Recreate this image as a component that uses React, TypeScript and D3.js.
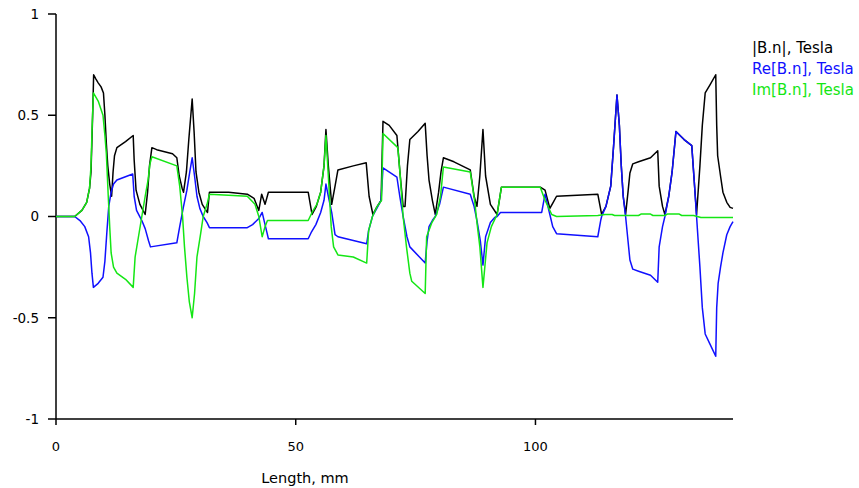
import React from "react";
import * as d3 from "d3";

type P = [number, number];

const xTicks = [0, 50, 100];
const yTicks = [-1, -0.5, 0, 0.5, 1];
const seriesNames = ["|B.n|, Tesla", "Re[B.n], Tesla", "Im[B.n], Tesla"];
const seriesColors = ["#000000", "#1010ff", "#14e614"];

const absB: P[] = [
  [0, 0], [3.9, 0], [5.4, 0.03], [6.4, 0.07], [7.0, 0.14], [7.3, 0.22], [7.5, 0.38], [7.7, 0.55], [7.85, 0.7],
  [8.3, 0.68], [8.8, 0.66], [9.4, 0.64], [9.9, 0.61], [10.2, 0.5], [10.5, 0.36], [10.8, 0.25], [11.2, 0.16],
  [11.6, 0.1], [11.9, 0.22], [12.2, 0.3], [12.7, 0.34], [14.5, 0.37], [16.1, 0.4], [16.3, 0.28], [16.7, 0.13],
  [17.5, 0.06], [18.6, 0.01], [19.1, 0.12], [19.5, 0.25], [20.0, 0.34], [21, 0.33], [24.3, 0.31],
  [25.2, 0.29], [25.7, 0.2], [26.3, 0.14], [26.6, 0.12], [27.2, 0.22], [27.7, 0.38], [28.4, 0.58], [28.8, 0.42],
  [29.2, 0.22], [29.8, 0.12], [30.5, 0.06], [31.3, 0.03], [31.6, 0.02], [32.0, 0.12], [36, 0.12], [39.9, 0.11],
  [41.3, 0.09], [42.3, 0.03], [42.9, 0.11], [43.6, 0.06], [44.3, 0.12], [52.6, 0.12], [53.4, 0.01], [54.3, 0.05],
  [55.2, 0.12], [55.9, 0.25], [56.3, 0.43], [56.8, 0.25], [57.5, 0.06], [58.2, 0.15], [58.8, 0.23], [62, 0.25],
  [64.7, 0.265], [65.3, 0.1], [66.1, 0.01], [67.0, 0.05], [67.8, 0.08], [68.2, 0.47], [69.5, 0.45], [71.1, 0.4],
  [71.8, 0.2], [72.4, 0.05], [72.8, 0.05], [73.3, 0.25], [73.8, 0.38], [75.5, 0.42], [77.0, 0.46], [77.4, 0.3],
  [77.8, 0.18], [78.5, 0.08], [79.1, 0.01], [79.8, 0.12], [80.3, 0.22], [80.8, 0.29], [83, 0.27], [86.4, 0.23],
  [87.2, 0.1], [87.8, 0.05], [88.4, 0.2], [89.05, 0.43], [89.6, 0.2], [90.6, 0.06], [92.0, 0.01], [92.9, 0.145],
  [101.0, 0.145], [102.0, 0.13], [103.0, 0.04], [103.7, 0.07], [104.4, 0.1], [113.0, 0.11], [113.8, 0.01],
  [114.7, 0.05], [115.7, 0.15], [116.3, 0.35], [117.0, 0.6], [117.5, 0.45], [117.9, 0.25], [118.3, 0.1],
  [118.8, 0.01], [119.3, 0.12], [119.7, 0.215], [120.3, 0.26], [121.5, 0.27], [124, 0.29], [125.5, 0.325],
  [125.8, 0.15], [126.5, 0.05], [127.0, 0.01], [127.8, 0.1], [128.5, 0.22], [129.3, 0.42], [131, 0.38],
  [132.6, 0.35], [133.1, 0.18], [133.6, 0.01], [134.3, 0.25], [134.8, 0.45], [135.4, 0.61], [136.4, 0.65],
  [137.6, 0.7], [137.8, 0.45], [138.0, 0.3], [138.6, 0.2], [139.1, 0.12], [139.9, 0.07], [140.6, 0.045], [141.2, 0.04],
];

const reB: P[] = [
  [0, 0], [3.9, 0], [5.0, -0.02], [6.0, -0.05], [6.8, -0.1], [7.2, -0.18], [7.5, -0.28], [7.8, -0.35],
  [8.8, -0.33], [9.8, -0.3], [10.2, -0.22], [10.6, -0.08], [11.0, 0.05], [11.5, 0.12], [12.0, 0.16], [12.7, 0.18],
  [16.0, 0.21], [16.3, 0.1], [16.8, 0.03], [17.9, -0.02], [18.6, -0.06], [19.3, -0.12], [19.7, -0.15],
  [25.2, -0.13], [25.8, -0.05], [26.6, 0.05], [27.3, 0.13], [27.9, 0.22], [28.4, 0.29], [28.9, 0.2], [29.4, 0.1],
  [30.0, 0.04], [30.7, 0.0], [31.5, -0.03], [32.0, -0.055], [39.9, -0.055], [41.0, -0.04], [42.3, -0.01],
  [43.0, 0.02], [43.5, -0.03], [44.0, -0.08], [44.3, -0.11], [52.6, -0.11], [53.2, -0.08], [54.2, -0.04],
  [55.2, 0.02], [55.9, 0.08], [56.3, 0.16], [56.8, 0.1], [57.5, 0.02], [58.2, -0.09], [58.8, -0.1],
  [64.8, -0.135], [65.2, -0.07], [66.0, 0.0], [66.9, 0.04], [67.8, 0.08], [68.2, 0.24], [71.1, 0.195],
  [71.7, 0.1], [72.4, 0.0], [73.2, -0.1], [73.8, -0.15], [77.0, -0.23], [77.4, -0.12], [77.8, -0.05],
  [78.5, -0.02], [79.1, 0.0], [80.0, 0.06], [80.8, 0.145], [86.4, 0.11], [87.2, 0.05], [87.8, -0.02],
  [88.5, -0.12], [89.05, -0.24], [89.6, -0.1], [90.6, -0.03], [91.5, -0.005], [92.0, 0.0], [92.7, 0.02],
  [101.3, 0.02], [102.0, 0.11], [102.5, 0.06], [103.0, 0.01], [103.6, -0.05], [104.4, -0.085], [113.0, -0.1],
  [113.6, -0.02], [113.8, 0.0], [114.7, 0.05], [115.7, 0.15], [116.3, 0.35], [117.0, 0.6], [117.5, 0.45],
  [117.9, 0.25], [118.3, 0.1], [118.8, 0.0], [119.3, -0.12], [119.7, -0.215], [120.3, -0.26], [121.5, -0.27],
  [124, -0.29], [125.5, -0.325], [125.8, -0.15], [126.5, -0.05], [127.0, 0.0], [127.8, 0.1], [128.5, 0.22],
  [129.3, 0.42], [131, 0.38], [132.6, 0.35], [133.1, 0.18], [133.6, 0.0], [134.3, -0.25], [134.8, -0.45],
  [135.4, -0.58], [136.4, -0.63], [137.6, -0.69], [137.8, -0.45], [138.1, -0.33], [138.6, -0.25],
  [139.1, -0.18], [139.9, -0.09], [140.6, -0.05], [141.2, -0.025],
];

const imB: P[] = [
  [0, 0], [3.9, 0], [5.4, 0.03], [6.4, 0.07], [7.0, 0.14], [7.3, 0.25], [7.55, 0.45], [7.8, 0.61], [8.8, 0.57],
  [9.8, 0.5], [10.2, 0.4], [10.5, 0.31], [10.9, 0.1], [11.2, -0.05], [11.5, -0.18], [12.0, -0.25], [12.7, -0.28],
  [14.5, -0.31], [16.1, -0.35], [16.5, -0.2], [17.2, -0.1], [17.9, 0.0], [18.6, 0.1], [19.2, 0.18], [19.6, 0.26],
  [20.0, 0.295], [25.2, 0.25], [25.8, 0.15], [26.4, 0.0], [26.8, -0.15], [27.3, -0.3], [27.8, -0.42],
  [28.4, -0.5], [28.9, -0.38], [29.4, -0.2], [30.2, -0.08], [30.7, 0.0], [31.5, 0.06], [32.0, 0.11], [36, 0.105],
  [39.9, 0.1], [41.5, 0.06], [42.3, 0.0], [43.0, -0.1], [43.6, -0.05], [44.1, -0.02], [52.6, -0.02],
  [53.4, 0.02], [54.4, 0.06], [55.2, 0.12], [55.9, 0.25], [56.3, 0.4], [56.8, 0.2], [57.4, -0.05],
  [57.9, -0.15], [58.8, -0.19], [62, -0.2], [64.8, -0.23], [65.2, -0.07], [66.0, 0.0], [66.9, 0.046],
  [67.9, 0.08], [68.2, 0.41], [71.3, 0.34], [71.8, 0.2], [72.4, 0.0], [73.1, -0.15], [73.8, -0.28],
  [74.2, -0.32], [77.0, -0.38], [77.3, -0.1], [78.4, -0.03], [79.4, 0.01], [80.2, 0.1], [80.8, 0.245],
  [86.4, 0.22], [87.3, 0.08], [87.8, -0.03], [88.4, -0.15], [89.05, -0.35], [89.9, -0.13], [90.8, -0.05],
  [92.0, 0.01], [92.9, 0.145], [101.0, 0.145], [102.0, 0.08], [103.4, 0.01], [104.4, 0.0], [113, 0.005],
  [114.5, 0.01], [116, 0.01], [116.5, 0.005], [121.5, 0.005], [122, 0.012], [124, 0.012], [124.5, 0.005],
  [127, 0.005], [127.5, 0.012], [130, 0.012], [130.5, 0.005], [133, 0.005], [134.5, -0.005], [141.2, -0.005],
];

const seriesData = [absB, reB, imB];

export default function App() {
  const width = 859;
  const height = 488;
  const x = d3.scaleLinear().domain([0, 141.2]).range([56, 733]);
  const y = d3.scaleLinear().domain([-1, 1]).range([419, 14]);
  const line = d3
    .line<P>()
    .x((d) => x(d[0]))
    .y((d) => y(d[1]));
  const font = "'DejaVu Sans', Verdana, sans-serif";

  return (
    <svg
      width={width}
      height={height}
      style={{ position: "absolute", left: 0, top: 0, background: "#fff" }}
    >
      <rect x={0} y={0} width={width} height={height} fill="#fff" />
      <line x1={56} x2={56} y1={y(1)} y2={y(-1)} stroke="#000" strokeWidth={1.5} />
      <line x1={56} x2={733} y1={y(-1)} y2={y(-1)} stroke="#000" strokeWidth={1.5} />
      {yTicks.map((t) => (
        <g key={"y" + t}>
          <line x1={48} x2={56} y1={y(t)} y2={y(t)} stroke="#000" strokeWidth={1.5} />
          <text
            x={39}
            y={y(t)}
            dy="0.36em"
            textAnchor="end"
            fontFamily={font}
            fontSize={13.5}
            fill="#000"
          >
            {String(t)}
          </text>
        </g>
      ))}
      {xTicks.map((t) => (
        <g key={"x" + t}>
          <line x1={x(t)} x2={x(t)} y1={y(-1)} y2={y(-1) + 6} stroke="#000" strokeWidth={1.5} />
          <text x={x(t)} y={451} textAnchor="middle" fontFamily={font} fontSize={13} fill="#000">
            {String(t)}
          </text>
        </g>
      ))}
      <text x={305} y={483} textAnchor="middle" fontFamily={font} fontSize={14.5} fill="#000">
        Length, mm
      </text>
      {seriesData.map((s, i) => (
        <path
          key={"s" + i}
          d={line(s) || ""}
          fill="none"
          stroke={seriesColors[i]}
          strokeWidth={1.5}
          strokeLinejoin="round"
        />
      ))}
      {seriesNames.map((n, i) => (
        <text
          key={"l" + i}
          x={752}
          y={53 + i * 21}
          fontFamily={font}
          fontSize={15}
          fill={seriesColors[i]}
        >
          {n}
        </text>
      ))}
    </svg>
  );
}
